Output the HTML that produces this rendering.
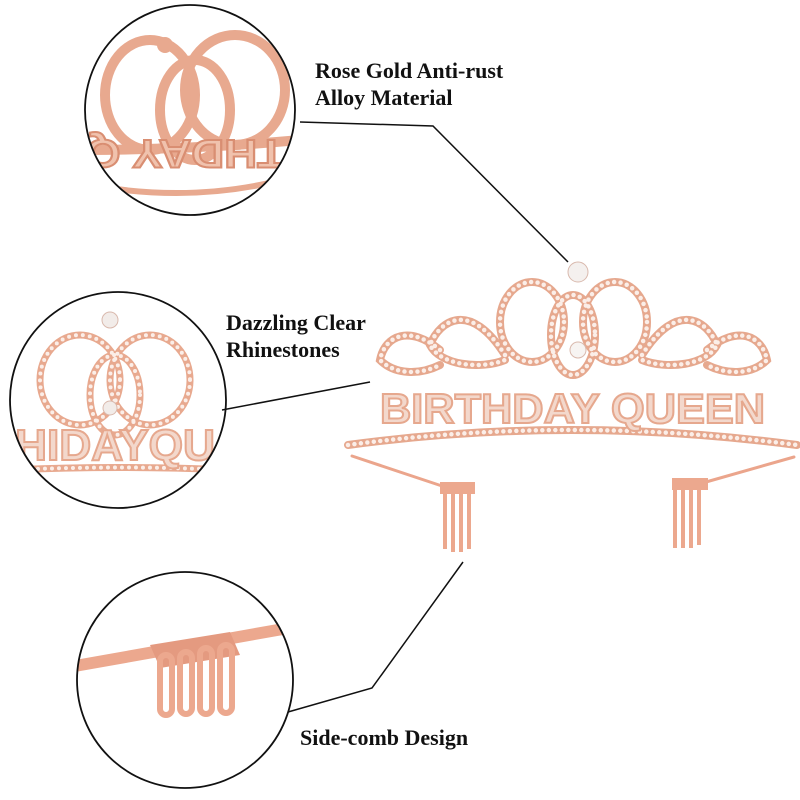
<!DOCTYPE html>
<html><head><meta charset="utf-8"><style>
html,body{margin:0;padding:0;background:#fff}
.t{position:absolute;font-family:"Liberation Serif",serif;font-weight:bold;font-size:22px;color:#111;line-height:27px}
</style></head><body>
<div style="position:relative;width:800px;height:800px;overflow:hidden">
<svg width="800" height="800" viewBox="0 0 800 800" style="position:absolute;left:0;top:0">
<defs>
<clipPath id="c1"><circle cx="190" cy="110" r="105"/></clipPath>
<clipPath id="c2"><circle cx="118" cy="400" r="108"/></clipPath>
<clipPath id="c3"><circle cx="185" cy="680" r="108"/></clipPath>
</defs>
<polyline points="300,122 433,126 568,262" fill="none" stroke="#111" stroke-width="1.5"/>
<line x1="222" y1="410" x2="370" y2="382" stroke="#111" stroke-width="1.5"/>
<polyline points="288,712 372,688 463,562" fill="none" stroke="#111" stroke-width="1.5"/>

<g fill="none" stroke-linecap="round">
 <g stroke="#e6a88e" stroke-width="8">
  <ellipse cx="532" cy="322" rx="32" ry="40"/>
  <ellipse cx="615" cy="322" rx="32" ry="40"/>
  <ellipse cx="573" cy="335" rx="22" ry="40"/>
  <path d="M505,355 C470,300 440,320 430,345 C440,365 480,370 505,360"/>
  <path d="M642,355 C677,300 707,320 717,345 C707,365 667,370 642,360"/>
  <path d="M440,350 C410,325 385,335 380,360 C395,375 420,375 440,365"/>
  <path d="M707,350 C737,325 762,335 767,360 C752,375 727,375 707,365"/>
  <path d="M348,445 Q570,415 797,445"/>
 </g>
 <g stroke="#fbeee8" stroke-width="4.5" stroke-dasharray="0 6.5">
  <ellipse cx="532" cy="322" rx="32" ry="40"/>
  <ellipse cx="615" cy="322" rx="32" ry="40"/>
  <ellipse cx="573" cy="335" rx="22" ry="40"/>
  <path d="M505,355 C470,300 440,320 430,345 C440,365 480,370 505,360"/>
  <path d="M642,355 C677,300 707,320 717,345 C707,365 667,370 642,360"/>
  <path d="M440,350 C410,325 385,335 380,360 C395,375 420,375 440,365"/>
  <path d="M707,350 C737,325 762,335 767,360 C752,375 727,375 707,365"/>
  <path d="M348,445 Q570,415 797,445"/>
 </g>
 <path d="M352,456 L442,486" stroke="#eba58c" stroke-width="3"/>
 <path d="M794,457 L706,482" stroke="#eba58c" stroke-width="3"/>
</g>
<circle cx="578" cy="272" r="10" fill="#f4f0ee" stroke="#d9b9ad"/>
<circle cx="578" cy="350" r="8" fill="#f7f4f2" stroke="#d9b9ad"/>
<text x="380" y="423" font-family="Liberation Sans,sans-serif" font-weight="bold" font-size="42" fill="#f3d8cc" stroke="#e6a88e" stroke-width="2" textLength="385" lengthAdjust="spacingAndGlyphs">BIRTHDAY QUEEN</text>
<g fill="#eca88e">
 <rect x="440" y="482" width="35" height="12"/>
 <rect x="443" y="494" width="4" height="55"/><rect x="451" y="494" width="4" height="58"/><rect x="459" y="494" width="4" height="58"/><rect x="467" y="494" width="4" height="55"/>
 <rect x="672" y="478" width="36" height="12"/>
 <rect x="673" y="490" width="4" height="58"/><rect x="681" y="490" width="4" height="58"/><rect x="689" y="490" width="4" height="58"/><rect x="697" y="490" width="4" height="55"/>
</g>

<g clip-path="url(#c1)">
 <g fill="none" stroke="#e8a98f" stroke-width="10">
  <ellipse cx="150" cy="95" rx="45" ry="55"/>
  <ellipse cx="235" cy="90" rx="50" ry="55"/>
  <ellipse cx="195" cy="110" rx="35" ry="50"/>
  <path d="M80,150 Q190,150 300,140"/>
  <path d="M90,185 Q200,205 300,175" stroke-width="6"/>
 </g>
 <text x="95" y="180" font-family="Liberation Sans,sans-serif" font-weight="bold" font-size="40" fill="#f0c2ad" stroke="#d98e72" stroke-width="2" transform="rotate(180 190 160)" textLength="200" lengthAdjust="spacingAndGlyphs">THDAY Q</text>
 <circle cx="165" cy="45" r="8" fill="#e8a98f"/>
</g>
<circle cx="190" cy="110" r="105" fill="none" stroke="#111" stroke-width="1.8"/>

<g clip-path="url(#c2)">
 <g fill="none" stroke="#e8a98f" stroke-width="7">
  <ellipse cx="80" cy="380" rx="40" ry="45"/>
  <ellipse cx="150" cy="380" rx="40" ry="45"/>
  <ellipse cx="115" cy="395" rx="25" ry="40"/>
  <path d="M10,470 Q120,465 230,470"/>
 </g>
 <g fill="none" stroke="#fbeee8" stroke-width="4" stroke-dasharray="0 7" stroke-linecap="round">
  <ellipse cx="80" cy="380" rx="40" ry="45"/>
  <ellipse cx="150" cy="380" rx="40" ry="45"/>
  <ellipse cx="115" cy="395" rx="25" ry="40"/>
  <path d="M10,470 Q120,465 230,470"/>
 </g>
 <text x="15" y="460" font-family="Liberation Sans,sans-serif" font-weight="bold" font-size="44" fill="#f3d8cc" stroke="#e6a88e" stroke-width="2" textLength="200" lengthAdjust="spacingAndGlyphs">HIDAYQU</text>
 <circle cx="110" cy="320" r="8" fill="#f2ece9" stroke="#d9b9ad"/>
 <circle cx="110" cy="408" r="7" fill="#f2ece9" stroke="#d9b9ad"/>
</g>
<circle cx="118" cy="400" r="108" fill="none" stroke="#111" stroke-width="1.8"/>

<g clip-path="url(#c3)">
 <path d="M75,660 L300,620 L300,632 L75,672 Z" fill="#eca88e"/>
 <path d="M150,645 L230,632 L240,655 L160,668 Z" fill="#e49a80"/>
 <g fill="none" stroke="#eca88e" stroke-width="6">
  <rect x="160" y="655" width="12" height="60" rx="6"/>
  <rect x="180" y="652" width="12" height="62" rx="6"/>
  <rect x="200" y="648" width="12" height="66" rx="6"/>
  <rect x="220" y="645" width="12" height="68" rx="6"/>
 </g>
</g>
<circle cx="185" cy="680" r="108" fill="none" stroke="#111" stroke-width="1.8"/>
</svg>
<div class="t" style="left:315px;top:57px">Rose Gold Anti-rust<br>Alloy Material</div>
<div class="t" style="left:226px;top:309px">Dazzling Clear<br>Rhinestones</div>
<div class="t" style="left:300px;top:724px">Side-comb Design</div>
</div>
</body></html>
